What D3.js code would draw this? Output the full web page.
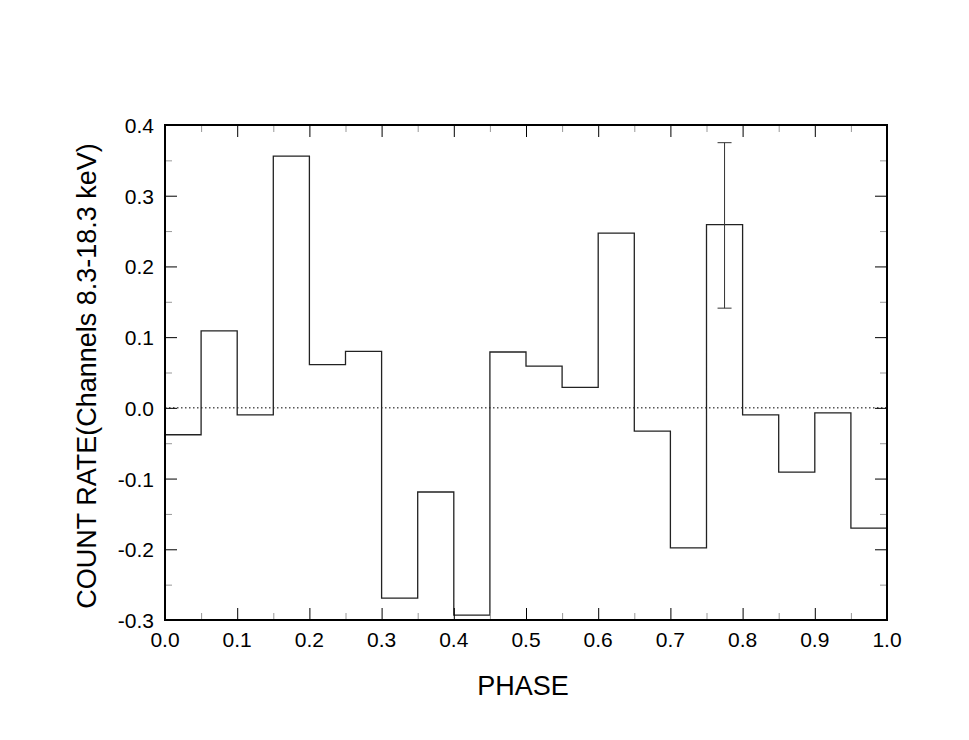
<!DOCTYPE html>
<html lang="en">
<head>
    <meta charset="UTF-8"/>
    <title>Count rate vs phase</title>
    <script src="https://d3js.org/d3.v7.min.js"></script>
    <style>
        body { margin: 0; background: #fff; }
        text { font-family: "Liberation Sans", Arial, sans-serif; fill: #000; }
    </style>
</head>
<body>
<script>
    var w = 969;
    var h = 740;

    // phase bins (left edges), width 0.05
    var binStart = [0.00, 0.05, 0.10, 0.15, 0.20, 0.25, 0.30, 0.35, 0.40, 0.45,
                    0.50, 0.55, 0.60, 0.65, 0.70, 0.75, 0.80, 0.85, 0.90, 0.95];
    var binWidth = 0.05;
    var rate = [-0.038, 0.109, -0.010, 0.356, 0.061, 0.080, -0.269, -0.119, -0.293, 0.079,
                0.059, 0.029, 0.247, -0.033, -0.198, 0.259, -0.010, -0.091, -0.007, -0.170];

    // single error bar drawn in the figure
    var errPhase = 0.775;
    var errLow = 0.141;
    var errHigh = 0.375;

    var xTicks = [0.0, 0.1, 0.2, 0.3, 0.4, 0.5, 0.6, 0.7, 0.8, 0.9, 1.0];
    var yTicks = [-0.3, -0.2, -0.1, 0.0, 0.1, 0.2, 0.3, 0.4];

    var pLeft = 165, pRight = 887, pTop = 125, pBottom = 620;

    var svg = d3.select("body").append("svg")
        .attr("width", w)
        .attr("height", h);

    var x = d3.scaleLinear().domain([0, 1]).range([pLeft, pRight]);
    var y = d3.scaleLinear().domain([-0.3, 0.4]).range([pBottom, pTop]);

    // zero line (dotted)
    svg.append("line")
        .attr("x1", x(0)).attr("x2", x(1))
        .attr("y1", y(0)).attr("y2", y(0))
        .attr("stroke", "#000")
        .attr("stroke-width", 1)
        .attr("stroke-dasharray", "1.5,2.5");

    // histogram step line
    var pts = [];
    binStart.forEach(function (b, i) {
        pts.push([b, rate[i]]);
        pts.push([b + binWidth, rate[i]]);
    });
    svg.append("path")
        .datum(pts)
        .attr("fill", "none")
        .attr("stroke", "#222")
        .attr("stroke-width", 1.3)
        .attr("d", d3.line().x(d => x(d[0])).y(d => y(d[1])));

    // error bar
    var cap = 7;
    svg.append("line")
        .attr("x1", x(errPhase)).attr("x2", x(errPhase))
        .attr("y1", y(errLow)).attr("y2", y(errHigh))
        .attr("stroke", "#333").attr("stroke-width", 1);
    [errLow, errHigh].forEach(function (v) {
        svg.append("line")
            .attr("x1", x(errPhase) - cap).attr("x2", x(errPhase) + cap)
            .attr("y1", y(v)).attr("y2", y(v))
            .attr("stroke", "#333").attr("stroke-width", 1);
    });

    // axes with inward ticks on all four sides
    var xMinor = d3.range(0.05, 1, 0.1);
    var yMinor = d3.range(-0.25, 0.4, 0.1);

    function tickGroup(axis, transform, ticks, size, color) {
        var g = svg.append("g")
            .attr("transform", transform)
            .call(axis.tickValues(ticks).tickSize(size).tickFormat(""));
        g.select(".domain").remove();
        g.selectAll(".tick line").attr("stroke", color).attr("stroke-width", 1);
        return g;
    }

    tickGroup(d3.axisTop(x), "translate(0," + pBottom + ")", xTicks, 12, "#000");
    tickGroup(d3.axisTop(x), "translate(0," + pBottom + ")", xMinor, 7, "#999");
    tickGroup(d3.axisBottom(x), "translate(0," + pTop + ")", xTicks, 12, "#000");
    tickGroup(d3.axisBottom(x), "translate(0," + pTop + ")", xMinor, 7, "#999");
    tickGroup(d3.axisRight(y), "translate(" + pLeft + ",0)", yTicks, 12, "#000");
    tickGroup(d3.axisRight(y), "translate(" + pLeft + ",0)", yMinor, 7, "#999");
    tickGroup(d3.axisLeft(y), "translate(" + pRight + ",0)", yTicks, 12, "#000");
    tickGroup(d3.axisLeft(y), "translate(" + pRight + ",0)", yMinor, 7, "#999");

    // frame
    svg.append("rect")
        .attr("x", pLeft).attr("y", pTop)
        .attr("width", pRight - pLeft).attr("height", pBottom - pTop)
        .attr("fill", "none")
        .attr("stroke", "#000")
        .attr("stroke-width", 2);

    // tick labels
    svg.selectAll(".xlab")
        .data(xTicks)
        .enter().append("text")
        .attr("class", "xlab")
        .attr("x", d => x(d))
        .attr("y", pBottom + 27)
        .attr("text-anchor", "middle")
        .attr("font-size", "21px")
        .text(d => d.toFixed(1));

    svg.selectAll(".ylab")
        .data(yTicks)
        .enter().append("text")
        .attr("class", "ylab")
        .attr("x", pLeft - 11)
        .attr("y", d => y(d) + 8)
        .attr("text-anchor", "end")
        .attr("font-size", "21px")
        .text(d => d.toFixed(1));

    // axis titles
    svg.append("text")
        .attr("x", 523)
        .attr("y", 695)
        .attr("text-anchor", "middle")
        .attr("font-size", "27px")
        .text("PHASE");

    svg.append("text")
        .attr("transform", "translate(96,376) rotate(-90)")
        .attr("text-anchor", "middle")
        .attr("font-size", "27px")
        .text("COUNT RATE(Channels 8.3-18.3 keV)");
</script>
</body>
</html>
